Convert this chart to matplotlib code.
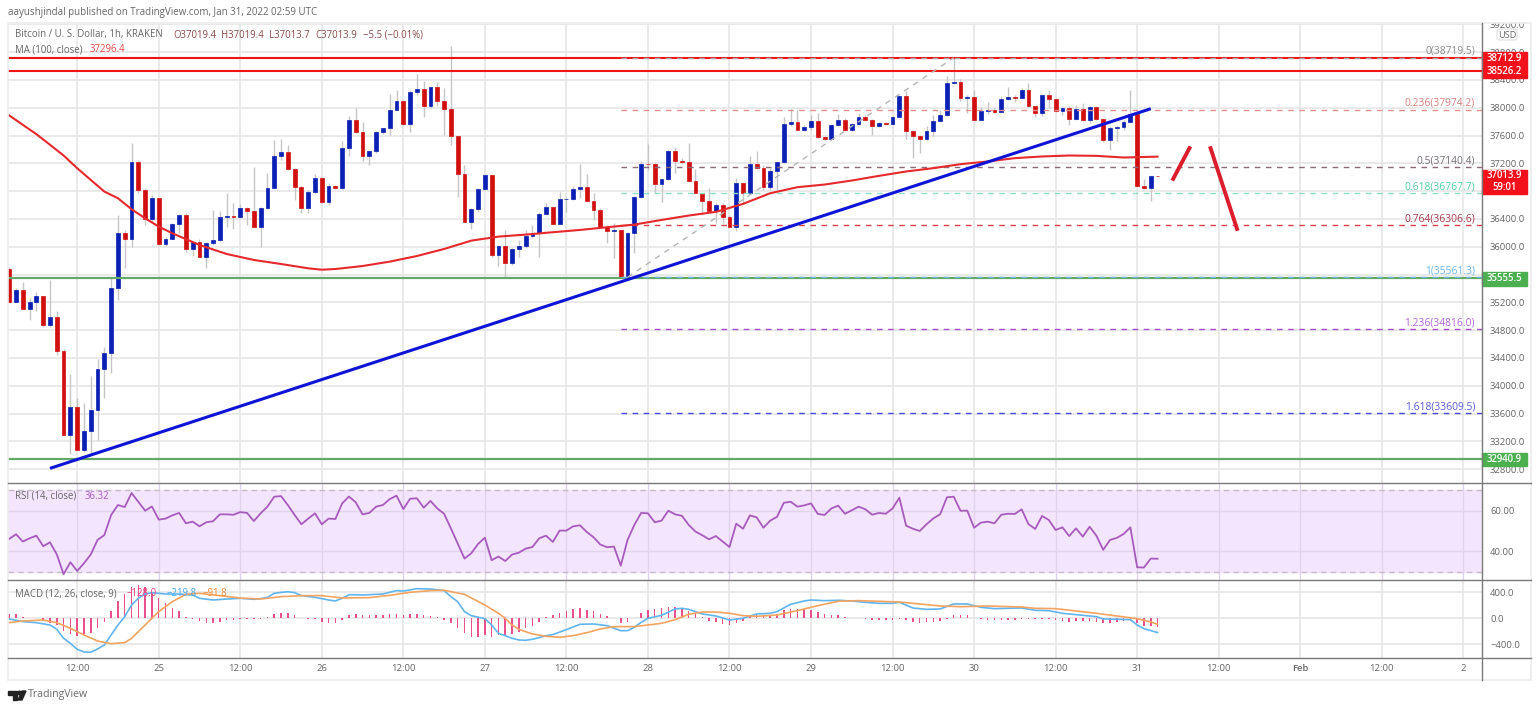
import numpy as np
import matplotlib
matplotlib.use("Agg")
import matplotlib.pyplot as plt
from matplotlib.patches import Rectangle, FancyBboxPatch, Polygon, Circle
from matplotlib.transforms import Bbox

plt.rcParams["font.family"] = ["Open Sans", "DejaVu Sans"]

# Hourly bars, first bar is Jan 24 02:00 (hour 2 counted from Jan 24 00:00)
first_hour = 2
first_open = 35675

closes = [35210,35378,35099,35210,35296,34869,34994,34499,33289,33692,
          33072,33351,33658,34235,34465,35402,36194,36107,37217,36818,
          36396,36698,36035,36117,36324,36453,35963,36074,35858,36050,
          36098,36424,36444,36424,36559,36520,36290,36559,36852,37299,
          37361,37121,36857,36554,36794,36986,36650,36876,36842,37428,
          37817,37644,37308,37371,37644,37707,37971,38091,37769,38226,
          38264,38019,38298,38091,37981,37587,37044,36362,36540,36828,
          37030,35882,36016,35762,35968,36012,36161,36204,36473,36569,
          36329,36684,36694,36833,36857,36665,36530,36290,36223,36237,
          35570,36194,36713,37193,37184,36905,36972,37371,37241,37217,
          36943,36770,36655,36511,36607,36434,36281,36915,36770,37193,
          37140,36857,37088,37217,37765,37798,37683,37726,37813,37573,
          37549,37750,37822,37678,37765,37870,37827,37731,37774,37770,
          37870,38163,37659,37587,37553,37669,37813,37894,38356,38375,
          38139,38154,37827,37947,37962,37938,38125,38149,38134,38250,
          38019,37923,38187,38125,37947,37995,37837,37985,37817,38009,
          37837,37529,37707,37721,37793,37913,36876,36852,37019.4,37013.9]

highs = [35714,35410,35488,35260,35354,35296,35522,35080,34532,34163,
         33817,33759,34139,34384,34561,35546,36458,36240,37491,37251,
         36842,36746,36698,36146,36338,36458,36482,36074,36107,36074,
         36530,36520,36780,36626,36616,36568,37145,36568,37068,37529,
         37548,37467,37130,36880,36818,37049,37010,36914,36890,37515,
         37875,37995,37788,37395,37659,37707,38197,38250,38115,38250,
         38490,38379,38298,38370,38283,38884,37577,37179,36560,36842,
         37049,37030,36026,36242,35980,36098,36242,36314,36506,36636,
         36578,36795,36710,36867,37193,37049,36780,36554,36314,36338,
         36242,36218,36730,37227,37481,37203,36972,37395,37433,37275,
         37491,37116,36780,36843,36626,36626,36458,36987,36924,37308,
         37371,37179,37131,37227,37866,37981,37971,37755,37899,37923,
         37587,37755,37914,37851,37779,37923,37899,37837,37789,37789,
         37885,38178,38235,37659,37587,37731,37899,37971,38452,38716,
         38413,38187,38260,38010,38077,37995,38163,38298,38187,38283,
         38355,38029,38197,38259,38139,38009,38019,38043,38067,38019,
         38019,37851,37731,37740,37817,38259,37923,36972,37020,37019.4]

lows = [35210,35200,35099,34946,35080,34850,34840,34441,33289,33024,
        33072,33048,33024,33216,33826,34177,35234,35690,35992,36770,
        36314,36348,36026,36016,36122,36194,35930,35867,35858,35690,
        36026,36088,36290,36252,36410,36314,36280,35992,36549,36842,
        37250,37106,36674,36482,36482,36770,36626,36602,36828,36828,
        37299,37635,37241,37179,37356,37625,37611,37971,37769,37644,
        38187,37865,37995,38019,37611,37467,36722,36362,36252,36506,
        36818,35858,35723,35569,35738,35858,35978,36146,35858,36458,
        36329,36338,36506,36675,36698,36665,36386,36281,36050,35834,
        35570,35570,35906,36698,37100,36770,36650,36963,37059,37190,
        36939,36770,36458,36506,36338,36338,36281,36233,36626,36770,
        37131,36819,36819,36819,37203,37731,37683,37659,37683,37563,
        37529,37549,37731,37673,37659,37755,37818,37611,37722,37755,
        37755,37865,37549,37275,37347,37539,37587,37803,37885,38346,
        38091,37923,37818,37827,37914,37923,37923,38105,38086,38139,
        38009,37865,37885,37995,37933,37889,37755,37817,37803,37779,
        37817,37500,37395,37515,37673,37793,36876,36828,36665,37013.7]

# 100 period moving average, read every few hours
ma_hours = [2,6,8,10,12,14,16,18,20,22,24,26,30,34,38,42,46,48,50,54,58,62,66,70,74,78,82,86,90,94,98,
            102,106,110,114,118,122,126,130,134,138,142,146,150,154,158,162,166,171]
ma_values = [37889,37620,37467,37313,37130,36962,36794,36698,36540,36410,36290,36194,36026,35896,35810,
             35752,35690,35670,35680,35723,35786,35867,35968,36088,36146,36175,36209,36242,36281,36319,
             36386,36449,36502,36617,36770,36857,36895,36953,37020,37083,37131,37188,37227,37275,37299,
             37313,37308,37284,37296.4]

# Rising trend line and the two hand drawn strokes
trend_hours = [8, 170]
trend_prices = [32812, 37986]
stroke_up_hours = [173.3, 175.7]
stroke_up_prices = [36977, 37419]
stroke_down_hours = [178.8, 182.7]
stroke_down_prices = [37419, 36256]

# Horizontal levels
red_levels = [38712.9, 38526.2]
green_levels = [35555.5, 32940.9]

# Fibonacci levels
fib_ratios = ["0", "0.236", "0.5", "0.618", "0.764", "1", "1.236", "1.618"]
fib_prices = [38719.5, 37974.2, 37140.4, 36767.7, 36306.6, 35561.3, 34816.0, 33609.5]
fib_line_colors = ["#a8a8a8", "#e58f8f", "#8a6a78", "#8adcc4", "#d8404c", "#6fb6e6", "#a64cc8", "#4a4ad8"]
fib_text_colors = ["#8c8c8c", "#d98080", "#77707a", "#55cfa8", "#a83a50", "#6db7ea", "#b565dc", "#5a5ad8"]
fib_start_hour = 92
fib_diag_hours = [93, 141]
fib_diag_prices = [35561.3, 38719.5]

rsi = [46.1,48.4,44.8,46.4,47.7,42.5,44.4,38.5,28.7,34.6,
       30.3,34.1,38.4,45.6,48.0,57.9,62.8,61.8,68.7,64.4,
       60.0,62.1,55.6,56.1,57.7,58.9,53.8,54.6,52.3,54.3,
       54.8,58.2,58.2,58.0,59.3,58.9,54.9,58.7,62.0,66.9,
       67.2,62.8,57.9,53.3,56.1,58.7,53.3,56.1,55.9,63.6,
       67.0,64.1,58.2,58.9,62.0,62.8,65.7,67.4,60.8,65.9,
       66.1,61.5,64.8,61.1,58.5,51.3,43.9,36.4,39.0,43.6,
       46.7,35.6,37.4,35.2,38.4,39.3,41.3,42.1,46.4,47.7,
       44.6,50.2,50.2,52.3,52.8,49.5,46.9,43.3,42.0,42.3,
       32.9,45.6,53.0,58.9,58.7,54.3,55.1,60.0,58.2,57.5,
       53.0,49.7,47.9,45.9,47.5,44.8,42.1,53.6,51.1,57.7,
       56.7,51.6,55.1,57.0,63.9,64.4,62.0,62.6,63.6,58.4,
       57.9,61.1,62.5,58.5,60.2,62.0,60.7,58.0,58.9,58.5,
       61.1,66.4,52.6,51.1,50.0,53.3,56.2,58.2,66.6,66.9,
       60.0,60.0,51.6,54.1,54.6,53.8,58.0,58.5,58.4,60.7,
       53.4,51.0,57.4,55.4,50.5,51.8,47.5,51.3,47.2,52.1,
       47.7,40.7,45.6,46.6,48.5,51.8,32.1,32.0,36.4,36.32]

macd_hist = [62,62,21,10,5,-36,-67,-108,-200,-236,
             -272,-246,-231,-149,-56,113,267,374,477,513,
             477,410,308,231,154,113,26,-10,-41,-67,
             -67,-56,-31,-20,-10,-10,-5,-5,15,62,
             82,77,56,0,-5,-15,-56,-72,-72,-26,
             46,72,56,46,46,46,62,72,56,62,
             72,51,41,21,-20,-67,-144,-231,-282,-282,
             -256,-282,-256,-272,-246,-210,-144,-118,-56,15,
             46,82,113,138,154,128,113,72,41,10,
             -77,-56,0,77,128,138,154,179,179,138,
             113,77,20,-41,-56,-82,-108,-72,-41,41,
             46,56,46,72,128,138,138,149,133,97,
             72,46,46,20,5,5,-10,-20,-20,-31,
             -31,-10,-31,-56,-72,-56,-56,-46,-5,46,
             46,46,10,-5,-20,-31,-31,-31,-20,-10,
             -5,-15,-10,-5,-31,-41,-51,-46,-46,-46,
             -56,-72,-67,-56,-46,-46,-77,-118,-118,-128]

macd_hours = [2,4,6,8,9,10,11,12,13,14,15,16,17,18,19,20,21,22,23,24,25,27,29,30,32,34,36,38,39,40,41,43,
              44,45,47,49,50,51,52,54,57,59,60,62,64,66,67,68,69,70,72,73,74,75,76,77,78,79,80,81,82,84,
              86,88,90,92,93,94,95,96,98,100,101,102,104,106,108,110,112,114,115,117,119,120,122,124,126,
              128,130,132,133,135,137,139,141,143,145,147,151,153,155,157,160,162,163,167,168,169,171]
macd_line = [-10,-51,-67,-103,-169,-308,-385,-477,-518,-523,-472,-410,-256,-103,26,205,308,374,395,385,374,
             374,359,308,282,297,308,292,303,323,385,410,395,349,323,282,267,308,364,359,374,426,420,456,451,
             426,333,256,103,41,-5,-103,-231,-267,-308,-333,-338,-323,-297,-267,-251,-174,-92,-87,-113,-190,
             -190,-138,-62,0,46,144,154,138,67,36,-26,0,67,77,103,215,267,282,272,277,267,246,231,231,246,159,
             138,144,221,221,169,149,159,123,118,77,46,26,-10,-20,-103,-159,-219.8]

signal_hours = [2,4,7,9,11,13,15,17,19,20,22,24,26,28,30,33,36,39,42,45,48,51,55,58,61,64,66,69,72,74,75,76,
                77,79,81,83,85,87,89,91,94,98,100,102,104,106,108,110,112,115,118,121,124,127,130,133,136,
                139,142,146,151,153,156,159,162,165,168,170,171]
signal_line = [-67,-41,-26,-67,-154,-256,-349,-390,-374,-308,-103,103,256,369,385,349,313,297,333,349,349,
               313,318,354,400,426,431,369,205,77,0,-103,-169,-241,-277,-292,-267,-221,-164,-128,-128,-77,
               -21,62,97,97,77,41,31,51,118,195,262,272,262,251,221,190,179,190,174,154,149,113,77,36,-5,
               -56,-91.8]

# Time axis
time_ticks = [12,24,36,48,60,72,84,96,108,120,132,144,156,168,180,192,204,216]
time_labels = ["12:00","25","12:00","26","12:00","27","12:00","28","12:00","29","12:00","30",
               "12:00","31","12:00","Feb","12:00","2"]
price_ticks = list(range(32800, 39600, 400))
hidden_price_ticks = [35600, 36800]

BLUE = "#0a1fb4"
RED = "#d20f0f"
GRID = "#e6e6e6"
TEXT = "#666666"
W, H = 1536, 710
LEFT, RIGHT, OUTER = 8, 1482, 1531


def pane(top, bottom):
    return fig.add_axes([LEFT / W, 1 - bottom / H, (RIGHT - LEFT) / W, (bottom - top) / H])


fig = plt.figure(figsize=(W / 100, H / 100), dpi=100, facecolor="white")
ax = pane(23.5, 483.3)
ax_rsi = pane(483.3, 580.3)
ax_macd = pane(580.3, 657.7)

hours = np.arange(first_hour, first_hour + len(closes))
closes_arr = np.array(closes, dtype=float)
opens_arr = np.r_[first_open, closes_arr[:-1]]
bar_colors = [BLUE if c >= o else RED for o, c in zip(opens_arr, closes_arr)]

for a in (ax, ax_rsi, ax_macd):
    a.set_xlim(1.82, 218.75)
    a.set_xticks(time_ticks)
    a.grid(True, color=GRID, lw=1.2)
    a.set_axisbelow(True)
    a.yaxis.tick_right()
    a.tick_params(axis="y", length=0, pad=5.8, labelsize=6.8, labelcolor=TEXT)
    a.tick_params(axis="x", length=0, labelbottom=False)
    for s in a.spines.values():
        s.set_visible(False)

# Price pane
ax.set_ylim(32597, 39212)
ax.set_yticks(price_ticks)
# two labels are covered by the price boxes in the original
ax.set_yticklabels(["" if p in hidden_price_ticks else f"{p:.1f}" for p in price_ticks])
ax.get_yticklabels()[-1].set_clip_on(True)
ax.get_yticklabels()[-1].set_clip_box(Bbox([[RIGHT, 0], [OUTER, H - 23]]))

ax.vlines(hours, lows, highs, color="#c6c6c6", lw=1.0, zorder=2)
ax.bar(hours, np.abs(closes_arr - opens_arr), bottom=np.minimum(opens_arr, closes_arr), width=0.56,
       color=bar_colors, edgecolor=bar_colors, lw=0.5, zorder=3)

for lev in red_levels:
    ax.axhline(lev, color="#f01414", lw=1.5, zorder=4)
for lev in green_levels:
    ax.axhline(lev, color="#62a866", lw=1.6, zorder=4)

for price, line_col in zip(fib_prices, fib_line_colors):
    ax.hlines(price, fib_start_hour, 218.75, color=line_col, lw=1.0, linestyles=(0, (4, 4)), zorder=4)
ax.plot(fib_diag_hours, fib_diag_prices, color="#b5b5b5", lw=1.0, ls=(0, (4, 4)), zorder=4)

ax.plot(ma_hours, ma_values, color="#e5292c", lw=1.5, zorder=5)
ax.plot(trend_hours, trend_prices, color="#0d14d6", lw=2.2, zorder=6, solid_capstyle="butt")
ax.plot(stroke_up_hours, stroke_up_prices, color="#dc1c2c", lw=2.8, zorder=6)
ax.plot(stroke_down_hours, stroke_down_prices, color="#dc1c2c", lw=2.8, zorder=6)

# Fibonacci labels sit just above their lines, at the right edge
for ratio, price, col in zip(fib_ratios, fib_prices, fib_text_colors):
    ax.annotate(f"{ratio}({price:.1f})", xy=(0.9953, price), xycoords=ax.get_yaxis_transform(),
                xytext=(0, 4.5), textcoords="offset points", ha="right", va="center",
                fontsize=7.4, color=col, zorder=7)

# Price boxes on the axis, y sizes in pixels of the pane
px_price = (39212 - 32597) / (483.3 - 23.5)
box_w = (1527 - RIGHT) / (RIGHT - LEFT)


def price_box(price_top, height_px, color, lines):
    rect = Rectangle((1.0, price_top - height_px * px_price), box_w, height_px * px_price,
                     transform=ax.get_yaxis_transform(), color=color, clip_on=False, zorder=8)
    ax.add_patch(rect)
    step = height_px / len(lines)
    for i, line in enumerate(lines):
        ax.text(1.0 + box_w / 2, price_top - (i + 0.5) * step * px_price, line, color="white",
                fontsize=6.9, fontweight="semibold", ha="center", va="center",
                transform=ax.get_yaxis_transform(), clip_on=False, zorder=9)


price_box(38807, 26, "#f2101a", ["38712.9", "38526.2"])
price_box(37107, 24, "#f2101a", ["37013.9", "59:01"])
price_box(35637, 14, "#4caf50", ["35555.5"])
price_box(33030, 12.5, "#4caf50", ["32940.9"])

# RSI pane
ax_rsi.set_ylim(25.7, 73.5)
ax_rsi.set_yticks([40, 60])
ax_rsi.set_yticklabels(["40.00", "60.00"])
ax_rsi.axhspan(30, 70, color="#f3e5fd", zorder=0)
ax_rsi.grid(True, color="#e2d3ed", lw=1.0)
ax_rsi.axhline(70, color="#c4bcc9", lw=1.0, ls=(0, (4, 3)), zorder=1)
ax_rsi.axhline(30, color="#c4bcc9", lw=1.0, ls=(0, (4, 3)), zorder=1)
ax_rsi.plot(hours, rsi, color="#a75bbd", lw=1.3, zorder=3)

# MACD pane
ax_macd.set_ylim(-606, 585)
ax_macd.set_yticks([-400, 0, 400])
ax_macd.set_yticklabels(["\u2212400.0", "0.0", "400.0"])
ax_macd.bar(hours, macd_hist, width=0.22, color="#e8508e", zorder=2)
ax_macd.plot(macd_hours, macd_line, color="#62b5ec", lw=1.2, zorder=3)
ax_macd.plot(signal_hours, signal_line, color="#f4a460", lw=1.2, zorder=4)

ax_macd.tick_params(axis="x", labelbottom=True, labelsize=6.8, labelcolor=TEXT, pad=4.5)
ax_macd.set_xticklabels(time_labels)
ax_macd.get_xticklabels()[15].set_fontweight("semibold")

# Overlay in pixels for frames, headers and the logo
over = fig.add_axes([0, 0, 1, 1], zorder=10)
over.set_xlim(0, W)
over.set_ylim(H, 0)
over.axis("off")
over.patch.set_alpha(0)

over.add_patch(Rectangle((LEFT, 23), OUTER - LEFT, 657, fill=False, ec="#ececec", lw=1.2))
for y in (483.3, 580.3, 657.7):
    over.plot([LEFT, OUTER], [y, y], color="#7a7a7a", lw=1.0)
over.plot([RIGHT, RIGHT], [23, 680], color="#7a7a7a", lw=1.0)

over.add_patch(FancyBboxPatch((1497, 29), 20, 11, boxstyle="round,pad=0,rounding_size=3",
                              fc="white", ec="#dddddd", lw=0.8))
over.text(1507, 35, "USD", fontsize=6.6, color=TEXT, ha="center", va="center")


def label(x, y, s, color=TEXT, size=6.9):
    over.text(x, y, s, color=color, fontsize=size, ha="left", va="center")


label(8, 12.5, "aayushjindal published on TradingView.com, Jan 31, 2022 02:59 UTC", size=7.0)
label(15, 35, "Bitcoin / U. S. Dollar, 1h, KRAKEN")
for x, s in zip([173, 221, 269, 315, 363],
                ["O37019.4", "H37019.4", "L37013.7", "C37013.9", "\u22125.5 (\u22120.01%)"]):
    label(x, 35, s, color="#8a4a4a")
label(15, 49.5, "MA (100, close)")
label(90, 49.5, "37296.4", color="#ea4b4b")
label(15, 496.5, "RSI (14, close)")
label(85, 496.5, "36.32", color="#ab5bc4")
label(15, 593.5, "MACD (12, 26, close, 9)")
label(127, 593.5, "\u2212128.0", color="#ea3f80")
label(167, 593.5, "\u2212219.8", color="#45a8ea")
label(203, 593.5, "\u221291.8", color="#f58a32")

# TradingView logo and name
over.add_patch(Polygon([(8, 691), (17, 691), (17, 700), (13, 700), (13, 695), (8, 695)], color="#222222"))
over.add_patch(Circle((19.5, 693), 1.8, color="#222222"))
over.add_patch(Polygon([(22, 691), (26, 691), (22, 700), (18, 700)], color="#222222"))
label(28, 695, "TradingView", color="#6a6a6a", size=7.6)

fig.savefig("out.png", dpi=100)
